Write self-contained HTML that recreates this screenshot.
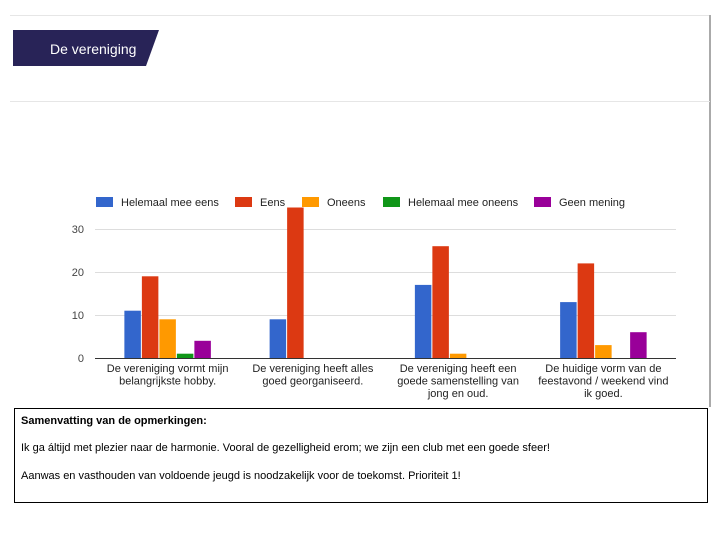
<!DOCTYPE html>
<html><head><meta charset="utf-8"><style>
body{margin:0;width:720px;height:540px;background:#fff;position:relative;overflow:hidden;font-family:"Liberation Sans",sans-serif}
.abs{position:absolute}
</style></head><body>
<div class="abs" style="left:10px;top:15px;width:700px;height:1px;background:#e6e6e6"></div>
<div class="abs" style="left:709px;top:15px;width:2px;height:392px;background:#aaa"></div>
<svg class="abs" style="left:0;top:0" width="720" height="110">
<polygon points="13,30 159,30 146,66 13,66" fill="#282357"/>
<text x="50" y="54" font-size="14" fill="#fff" font-family="Liberation Sans, sans-serif">De vereniging</text>
<rect x="10" y="101" width="700" height="1" fill="#e6e6e6"/>
</svg>
<svg id="chart" class="abs" style="left:0;top:0" width="720" height="410"></svg>
<div class="abs" style="left:14px;top:408px;width:692px;height:93px;border:1px solid #000;font-size:11px;color:#000;font-family:'Liberation Sans Narrow','Liberation Sans',sans-serif">
<div style="position:absolute;left:6px;top:6px;font-weight:bold">Samenvatting van de opmerkingen:</div>
<div style="position:absolute;left:6px;top:33px">Ik ga áltijd met plezier naar de harmonie. Vooral de gezelligheid erom; we zijn een club met een goede sfeer!</div>
<div style="position:absolute;left:6px;top:61px">Aanwas en vasthouden van voldoende jeugd is noodzakelijk voor de toekomst. Prioriteit 1!</div>
</div>
<script>
const categories=[["De vereniging vormt mijn","belangrijkste hobby."],["De vereniging heeft alles","goed georganiseerd."],["De vereniging heeft een","goede samenstelling van","jong en oud."],["De huidige vorm van de","feestavond / weekend vind","ik goed."]];
const seriesNames=["Helemaal mee eens","Eens","Oneens","Helemaal mee oneens","Geen mening"];
const seriesColors=["#3366cc","#dc3912","#ff9900","#109618","#990099"];
const helemaalMeeEens=[11,9,17,13];
const eens=[19,35,26,22];
const oneens=[9,0,1,3];
const helemaalMeeOneens=[1,0,0,0];
const geenMening=[4,0,0,6];
const yTicks=[0,10,20,30];
const series=[helemaalMeeEens,eens,oneens,helemaalMeeOneens,geenMening];
const svg=document.getElementById('chart');const NS='http://www.w3.org/2000/svg';
const x0=95,x1=676,y0=358,pxPerUnit=4.3;
const yScale=v=>y0-v*pxPerUnit;
const groupW=(x1-x0)/categories.length,barW=17.5;
function mk(t,a){const e=document.createElementNS(NS,t);for(const k in a)e.setAttribute(k,a[k]);svg.appendChild(e);return e;}
yTicks.forEach(t=>{
 const g=mk('rect',{x:x0,y:yScale(t),width:x1-x0,height:1,fill:t===0?'#333':'#ddd'});
 
 
 const l=mk('text',{x:84,y:yScale(t)+4,'font-size':11,fill:'#444','text-anchor':'end'});l.textContent=t;
 
 
});
categories.forEach((c,i)=>{
 const cx=x0+groupW*(i+0.5);
 const start=cx-barW*series.length/2;
 series.forEach((s,j)=>{
  if(s[i]<=0)return;
  const r=mk('rect',{x:start+j*barW+0.5,y:yScale(s[i]),width:barW-1,height:s[i]*pxPerUnit,fill:seriesColors[j]});
  
  
 });
 c.forEach((line,k)=>{
  const t=mk('text',{x:cx,y:372+k*12.5,'font-size':11,fill:'#222','text-anchor':'middle'});t.textContent=line;
  
  
 });
});
const legX=[96,235,302,383,534];
seriesNames.forEach((n,j)=>{
 const r=mk('rect',{x:legX[j],y:197,width:17,height:10,fill:seriesColors[j]});
 
 
 const t=mk('text',{x:legX[j]+25,y:206,'font-size':11,fill:'#222'});t.textContent=n;
 
 
});
</script>
</body></html>
